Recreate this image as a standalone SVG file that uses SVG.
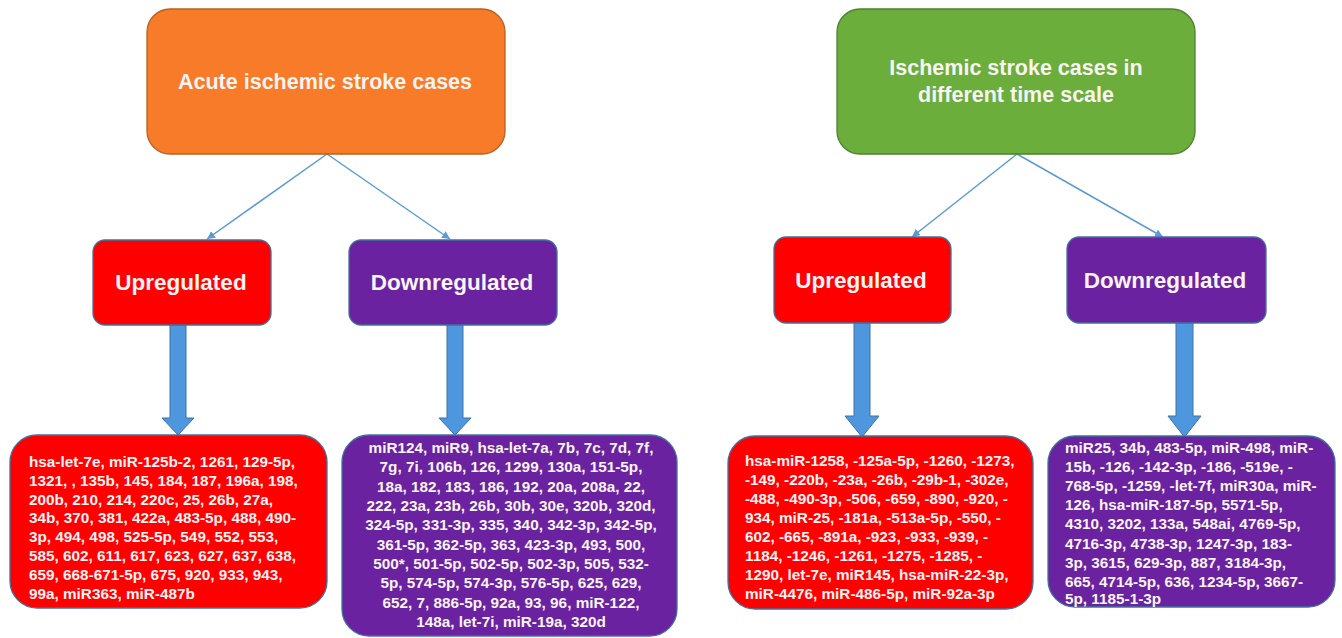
<svg xmlns="http://www.w3.org/2000/svg" width="1342" height="638" viewBox="0 0 1342 638">
<defs>
<style>
text{font-family:"Liberation Sans",Arial,sans-serif;font-weight:bold;fill:#F8F4F4}
.title{font-size:21.5px;text-anchor:middle}
.mid{font-size:22.5px;text-anchor:middle}
.list{font-size:15.3px}
.c{text-anchor:middle}
.red{fill:#FF0000;stroke:#41719C;stroke-width:1.3}
.purple{fill:#6A22A0;stroke:#41719C;stroke-width:1.3}
.conn{stroke:#5B9BD5;stroke-width:1.5;fill:none;marker-end:url(#ah)}
.block{fill:#4E97DE;stroke:#3F72A6;stroke-width:1}
</style>
<marker id="ah" viewBox="0 0 10 10" refX="10" refY="5" markerWidth="8" markerHeight="8" markerUnits="userSpaceOnUse" orient="auto">
<path d="M0,0 L10,5 L0,10 z" fill="#5B9BD5"/>
</marker>
</defs>
<rect width="1342" height="638" fill="#FFFFFF"/>

<g id="connectors">
<line class="conn" x1="327" y1="154" x2="207" y2="239"/>
<line class="conn" x1="327" y1="154" x2="450" y2="239"/>
<line class="conn" x1="1017" y1="154" x2="912" y2="237"/>
<line class="conn" x1="1017" y1="154" x2="1163" y2="237"/>
<polygon class="block" points="170,325 186,325 186,418 194,418 178,435 162,418 170,418"/>
<polygon class="block" points="447,325 463,325 463,418 471,418 455,435 439,418 447,418"/>
<polygon class="block" points="854,323 870,323 870,416 879,416 862,437 845,416 854,416"/>
<polygon class="block" points="1176,323 1193,323 1193,416 1201,416 1184.5,437 1168,416 1176,416"/>
</g>

<g id="acute">
<rect x="147" y="9" width="358" height="145" rx="23" fill="#F77B28" stroke="#B8611F" stroke-width="1.3"/>
<text class="title" x="325" y="89">Acute ischemic stroke cases</text>
</g>

<g id="timescale">
<rect x="837" y="9" width="358" height="145" rx="23" fill="#6BAE3B" stroke="#4F7F2F" stroke-width="1.3"/>
<text class="title" x="1016" y="75">Ischemic stroke cases in</text>
<text class="title" x="1016" y="102">different time scale</text>
</g>

<g id="up-left">
<rect class="red" x="93" y="240" width="178" height="85" rx="12"/>
<text class="mid" x="181" y="290">Upregulated</text>
</g>

<g id="down-left">
<rect class="purple" x="349" y="240" width="208" height="85" rx="12"/>
<text class="mid" x="452" y="290">Downregulated</text>
</g>

<g id="up-right">
<rect class="red" x="774" y="237" width="177" height="86" rx="12"/>
<text class="mid" x="861" y="288">Upregulated</text>
</g>

<g id="down-right">
<rect class="purple" x="1067" y="237" width="199" height="86" rx="12"/>
<text class="mid" x="1165" y="288">Downregulated</text>
</g>

<g id="list-up-left">
<rect class="red" x="10" y="435" width="317" height="173" rx="27"/>
<text class="list" x="29" y="467">hsa-let-7e, miR-125b-2, 1261, 129-5p,</text>
<text class="list" x="29" y="485.8">1321, , 135b, 145, 184, 187, 196a, 198,</text>
<text class="list" x="29" y="504.6">200b, 210, 214, 220c, 25, 26b, 27a,</text>
<text class="list" x="29" y="523.4">34b, 370, 381, 422a, 483-5p, 488, 490-</text>
<text class="list" x="29" y="542.2">3p, 494, 498, 525-5p, 549, 552, 553,</text>
<text class="list" x="29" y="561">585, 602, 611, 617, 623, 627, 637, 638,</text>
<text class="list" x="29" y="579.8">659, 668-671-5p, 675, 920, 933, 943,</text>
<text class="list" x="29" y="598.6">99a, miR363, miR-487b</text>
</g>

<g id="list-down-left">
<rect class="purple" x="342" y="435" width="335" height="201" rx="27"/>
<text class="list c" x="511" y="453">miR124, miR9, hsa-let-7a, 7b, 7c, 7d, 7f,</text>
<text class="list c" x="511" y="472.3">7g, 7i, 106b, 126, 1299, 130a, 151-5p,</text>
<text class="list c" x="511" y="491.7">18a, 182, 183, 186, 192, 20a, 208a, 22,</text>
<text class="list c" x="511" y="511">222, 23a, 23b, 26b, 30b, 30e, 320b, 320d,</text>
<text class="list c" x="511" y="530.3">324-5p, 331-3p, 335, 340, 342-3p, 342-5p,</text>
<text class="list c" x="511" y="549.7">361-5p, 362-5p, 363, 423-3p, 493, 500,</text>
<text class="list c" x="511" y="569">500*, 501-5p, 502-5p, 502-3p, 505, 532-</text>
<text class="list c" x="511" y="588.3">5p, 574-5p, 574-3p, 576-5p, 625, 629,</text>
<text class="list c" x="511" y="607.7">652, 7, 886-5p, 92a, 93, 96, miR-122,</text>
<text class="list c" x="511" y="627">148a, let-7i, miR-19a, 320d</text>
</g>

<g id="list-up-right">
<rect class="red" x="728" y="436" width="305" height="173" rx="27"/>
<text class="list" x="745" y="466">hsa-miR-1258, -125a-5p, -1260, -1273,</text>
<text class="list" x="745" y="485">-149, -220b, -23a, -26b, -29b-1, -302e,</text>
<text class="list" x="745" y="504">-488, -490-3p, -506, -659, -890, -920, -</text>
<text class="list" x="745" y="523">934, miR-25, -181a, -513a-5p, -550, -</text>
<text class="list" x="745" y="542">602, -665, -891a, -923, -933, -939, -</text>
<text class="list" x="745" y="561">1184, -1246, -1261, -1275, -1285, -</text>
<text class="list" x="745" y="580">1290, let-7e, miR145, hsa-miR-22-3p,</text>
<text class="list" x="745" y="599">miR-4476, miR-486-5p, miR-92a-3p</text>
</g>

<g id="list-down-right">
<rect class="purple" x="1048" y="436" width="287" height="171" rx="27"/>
<text class="list" x="1065" y="453">miR25, 34b, 483-5p, miR-498, miR-</text>
<text class="list" x="1065" y="472.1">15b, -126, -142-3p, -186, -519e, -</text>
<text class="list" x="1065" y="491.2">768-5p, -1259, -let-7f, miR30a, miR-</text>
<text class="list" x="1065" y="510.3">126, hsa-miR-187-5p, 5571-5p,</text>
<text class="list" x="1065" y="529.4">4310, 3202, 133a, 548ai, 4769-5p,</text>
<text class="list" x="1065" y="548.5">4716-3p, 4738-3p, 1247-3p, 183-</text>
<text class="list" x="1065" y="567.6">3p, 3615, 629-3p, 887, 3184-3p,</text>
<text class="list" x="1065" y="586.7">665, 4714-5p, 636, 1234-5p, 3667-</text>
<text class="list" x="1065" y="604">5p, 1185-1-3p</text>
</g>
</svg>
